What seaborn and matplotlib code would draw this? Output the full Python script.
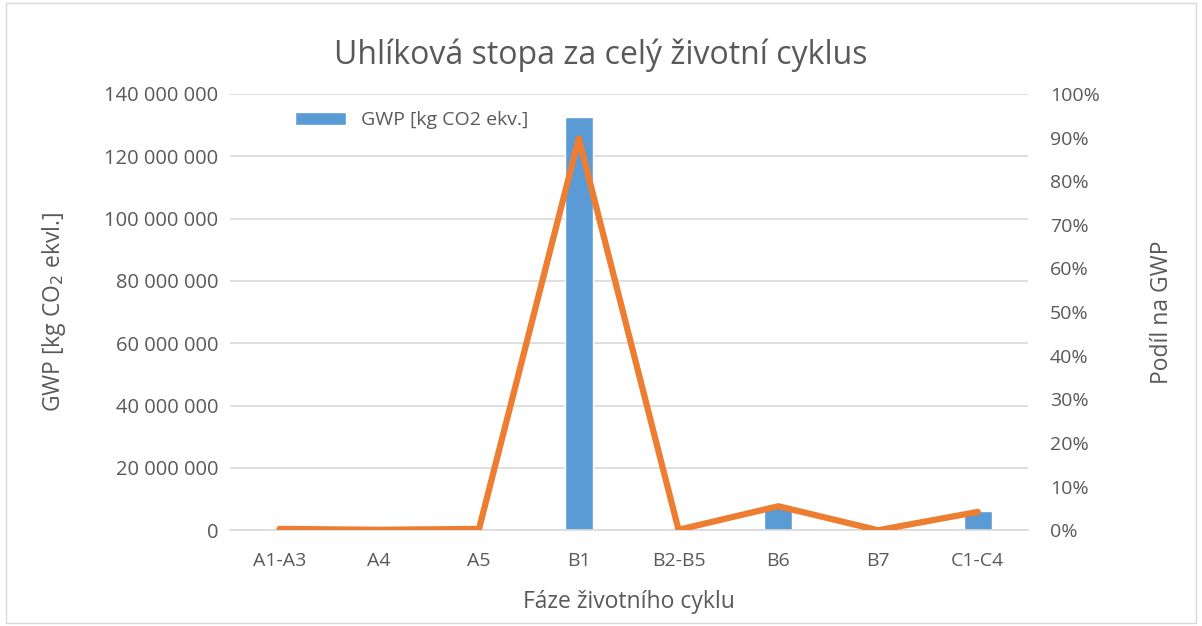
import matplotlib
matplotlib.use("Agg")
import matplotlib.pyplot as plt
import seaborn as sns
import pandas as pd
from matplotlib.ticker import FuncFormatter, MultipleLocator

# data
phases = ["A1-A3", "A4", "A5", "B1", "B2-B5", "B6", "B7", "C1-C4"]
gwp = [440000, 150000, 440000, 132600000, 150000, 8100000, 0, 6200000]
share = [0.003, 0.001, 0.003, 0.898, 0.001, 0.055, 0.0, 0.042]

df = pd.DataFrame({"phase": phases, "gwp": gwp, "share": share})

sns.set_style("white")
plt.rcParams["font.family"] = ["Open Sans", "DejaVu Sans"]

grey = "#595959"
blue = "#5B9BD5"
orange = "#ED7D31"

fig = plt.figure(figsize=(12.02, 6.26), dpi=100)
ax = fig.add_axes([0.191, 0.153, 0.664, 0.697])

sns.barplot(data=df, x="phase", y="gwp", color=blue, width=0.28,
            saturation=1, ax=ax, label="GWP [kg CO2 ekv.]", zorder=2)

ax.set_ylim(0, 140000000)
ax.yaxis.set_major_locator(MultipleLocator(20000000))
ax.yaxis.set_major_formatter(FuncFormatter(lambda v, p: f"{int(v):,}".replace(",", " ")))
ax.grid(axis="y", color="#D9D9D9", linewidth=1.2, zorder=0)
ax.set_axisbelow(True)
for s in ["top", "right", "left"]:
    ax.spines[s].set_visible(False)
ax.spines["bottom"].set_color("#D9D9D9")
ax.spines["bottom"].set_linewidth(1.2)
ax.tick_params(axis="y", colors=grey, labelsize=14.5, length=0, pad=8)
ax.tick_params(axis="x", colors=grey, labelsize=14, length=0, pad=16)
ax.set_xlabel("Fáze životního cyklu", color=grey, fontsize=16.5, labelpad=14)
ax.set_ylabel("GWP [kg CO$_2$ ekvl.]", color=grey, fontsize=16.5, labelpad=26)
ax.set_xlim(-0.5, 7.5)

ax2 = ax.twinx()
ax2.plot(df["phase"], df["share"], color=orange, linewidth=4.5,
         solid_capstyle="round", solid_joinstyle="round", zorder=3)
ax2.set_ylim(0, 1.0)
ax2.yaxis.set_major_locator(MultipleLocator(0.1))
ax2.yaxis.set_major_formatter(FuncFormatter(lambda v, p: f"{v*100:.0f}%"))
for s in ax2.spines.values():
    s.set_visible(False)
ax2.tick_params(axis="y", colors=grey, labelsize=14, length=0, pad=16)
ax2.set_ylabel("Podíl na GWP", color=grey, fontsize=16.5, labelpad=36)

leg = ax.legend(loc="upper left", bbox_to_anchor=(0.06, 1.0), frameon=False,
                fontsize=14, handlelength=2.6, handleheight=0.7,
                handletextpad=0.8)
for t in leg.get_texts():
    t.set_color(grey)

fig.text(0.5, 0.912, "Uhlíková stopa za celý životní cyklus", color=grey,
         fontsize=23, ha="center", va="center")

border = plt.Rectangle((0.005, 0.005), 0.99, 0.99, transform=fig.transFigure,
                       fill=False, edgecolor="#D9D9D9", linewidth=1)
fig.patches.append(border)

fig.savefig("out.png", dpi=100)
